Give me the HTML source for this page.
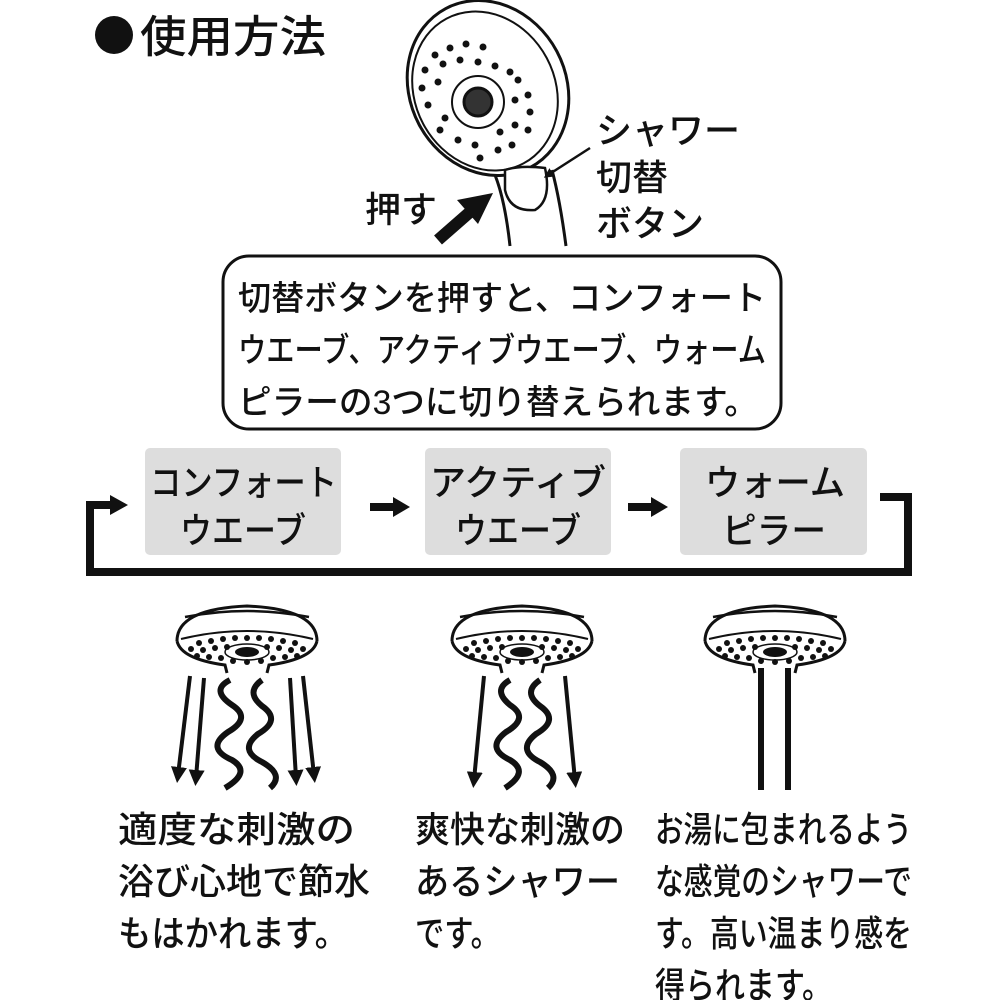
<!DOCTYPE html>
<html><head><meta charset="utf-8"><style>
html,body{margin:0;padding:0;background:#fff;}
svg{display:block;}
text{font-family:"Liberation Sans","Noto Sans CJK JP",sans-serif;fill:#111;font-weight:500;}
</style></head><body>
<svg width="1000" height="1000" viewBox="0 0 1000 1000" xmlns="http://www.w3.org/2000/svg">
<defs>
<marker id="ah" markerWidth="4" markerHeight="4" refX="2" refY="2" orient="auto" markerUnits="strokeWidth">
<path d="M0,0 L4,2 L0,4 Z" fill="#111"/></marker>
<g id="head">
<path d="M-70,38 Q-70,6 0,3 Q70,6 70,38" fill="#fff" stroke="#111" stroke-width="3"/>
<path d="M-62,14 Q0,2 62,14" fill="none" stroke="#111" stroke-width="2.5"/>
<path d="M-70,38 Q-66,56 -22,62 L-20,70 M70,38 Q66,56 22,62 L20,70" fill="none" stroke="#111" stroke-width="3"/>
<path d="M-66,36 Q0,20 66,36" fill="none" stroke="#111" stroke-width="2"/>
<g fill="#111">
<circle cx="-48" cy="40" r="3"/><circle cx="-36" cy="38" r="3"/><circle cx="-24" cy="36" r="3"/><circle cx="-12" cy="35" r="3"/><circle cx="0" cy="35" r="3"/><circle cx="12" cy="35" r="3"/><circle cx="24" cy="36" r="3"/><circle cx="36" cy="38" r="3"/><circle cx="48" cy="40" r="3"/>
<circle cx="-56" cy="46" r="3"/><circle cx="-44" cy="47" r="3"/><circle cx="-32" cy="45" r="3"/><circle cx="-20" cy="44" r="3"/><circle cx="20" cy="44" r="3"/><circle cx="32" cy="45" r="3"/><circle cx="44" cy="47" r="3"/><circle cx="56" cy="46" r="3"/>
<circle cx="-50" cy="53" r="3"/><circle cx="-38" cy="54" r="3"/><circle cx="-26" cy="55" r="3"/><circle cx="26" cy="55" r="3"/><circle cx="38" cy="54" r="3"/><circle cx="50" cy="53" r="3"/>
<circle cx="-14" cy="58" r="3"/><circle cx="0" cy="59" r="3"/><circle cx="14" cy="58" r="3"/>
<ellipse cx="0" cy="49" rx="12" ry="5"/>
</g>
<ellipse cx="0" cy="49" rx="22" ry="8" fill="none" stroke="#111" stroke-width="1.5"/>
</g>
</defs>

<!-- title -->
<circle cx="114" cy="35" r="19" fill="#111"/>
<text x="140" y="52" font-size="44" textLength="186" lengthAdjust="spacingAndGlyphs">使用方法</text>

<!-- top shower -->
<g stroke="#111" stroke-width="3" fill="#fff">
<path d="M510,246 Q505,200 495,175 M566,246 Q560,200 552,170"/>
<ellipse cx="488" cy="88" rx="78" ry="90" transform="rotate(-28 488 88)"/>
<ellipse cx="485" cy="91" rx="70" ry="82" transform="rotate(-28 485 91)" fill="none" stroke-width="2"/>
<path d="M505,170 Q520,165 545,168 Q552,200 535,210 Q510,212 505,190 Z" stroke-width="2.5"/>
<circle cx="478" cy="102" r="26" fill="none" stroke-width="2"/>
<circle cx="478" cy="102" r="14" fill="#333"/>
</g>
<g fill="#111">
<circle cx="435" cy="55" r="3.5"/><circle cx="450" cy="48" r="3.5"/><circle cx="466" cy="44" r="3.5"/><circle cx="483" cy="47" r="3.5"/>
<circle cx="425" cy="70" r="3.5"/><circle cx="443" cy="64" r="3.5"/><circle cx="460" cy="60" r="3.5"/><circle cx="478" cy="62" r="3.5"/><circle cx="495" cy="66" r="3.5"/><circle cx="510" cy="72" r="3.5"/>
<circle cx="422" cy="88" r="3.5"/><circle cx="438" cy="82" r="3.5"/><circle cx="518" cy="80" r="3.5"/><circle cx="528" cy="95" r="3.5"/>
<circle cx="428" cy="105" r="3.5"/><circle cx="445" cy="118" r="3.5"/><circle cx="515" cy="100" r="3.5"/><circle cx="530" cy="112" r="3.5"/>
<circle cx="440" cy="130" r="3.5"/><circle cx="458" cy="140" r="3.5"/><circle cx="475" cy="145" r="3.5"/><circle cx="500" cy="132" r="3.5"/><circle cx="515" cy="125" r="3.5"/><circle cx="528" cy="130" r="3.5"/>
<circle cx="480" cy="158" r="3.5"/><circle cx="498" cy="150" r="3.5"/><circle cx="512" cy="145" r="3.5"/>
</g>
<!-- arrows top -->
<path d="M438,240 L470,212" stroke="#111" stroke-width="12"/>
<path d="M493,193 L457,200 L478,224 Z" fill="#111"/>
<path d="M590,148 L548,175" stroke="#111" stroke-width="2.5" marker-end="url(#ah)"/>
<text x="365" y="222" font-size="36">押す</text>
<text x="596" y="143" font-size="36">シャワー</text>
<text x="596" y="190" font-size="36">切替</text>
<text x="596" y="236" font-size="36">ボタン</text>

<!-- callout -->
<rect x="223" y="256" width="558" height="173" rx="26" fill="#fff" stroke="#111" stroke-width="3"/>
<text x="238" y="310" font-size="34" textLength="528" lengthAdjust="spacingAndGlyphs">切替ボタンを押すと、コンフォート</text>
<text x="238" y="362" font-size="34" textLength="528" lengthAdjust="spacingAndGlyphs">ウエーブ、アクティブウエーブ、ウォーム</text>
<text x="238" y="414" font-size="34" textLength="520" lengthAdjust="spacingAndGlyphs">ピラーの3つに切り替えられます。</text>

<!-- mode boxes -->
<rect x="145" y="448" width="196" height="107" rx="5" fill="#ddd"/>
<rect x="425" y="448" width="186" height="107" rx="5" fill="#ddd"/>
<rect x="680" y="448" width="187" height="107" rx="5" fill="#ddd"/>
<g font-size="36">
<text x="150" y="495" textLength="187" lengthAdjust="spacingAndGlyphs">コンフォート</text>
<text x="180" y="543" textLength="126" lengthAdjust="spacingAndGlyphs">ウエーブ</text>
<text x="430" y="495" textLength="176" lengthAdjust="spacingAndGlyphs">アクティブ</text>
<text x="455" y="543" textLength="126" lengthAdjust="spacingAndGlyphs">ウエーブ</text>
<text x="705" y="495" textLength="140" lengthAdjust="spacingAndGlyphs">ウォーム</text>
<text x="722" y="543" textLength="104" lengthAdjust="spacingAndGlyphs">ピラー</text>
</g>
<!-- loop -->
<path d="M880,497 L908,497 L908,572 L90,572 L90,505 L112,505" fill="none" stroke="#111" stroke-width="8"/>
<path d="M110,495 L128,505 L110,515 Z" fill="#111"/>
<path d="M370,507 L395,507" stroke="#111" stroke-width="8"/><path d="M393,497 L410,507 L393,517 Z" fill="#111"/>
<path d="M628,507 L653,507" stroke="#111" stroke-width="8"/><path d="M651,497 L668,507 L651,517 Z" fill="#111"/>

<!-- bottom heads -->
<use href="#head" x="247" y="603"/>
<use href="#head" x="522" y="603"/>
<use href="#head" x="775" y="603"/>

<g stroke="#111" stroke-width="4" fill="none" marker-end="url(#ah)">
<path d="M190,676 L178,775"/><path d="M204,678 L196,778"/><path d="M290,678 L296,778"/><path d="M303,676 L314,775"/>
<path d="M484,676 L474,780"/><path d="M565,676 L575,780"/>
</g>
<g stroke="#111" stroke-width="6" fill="none">
<path d="M230,680 Q210,690 232,705 Q252,718 228,732 Q205,748 232,760 Q252,772 225,788"/>
<path d="M262,680 Q245,692 262,706 Q282,720 258,734 Q238,750 262,762 Q285,775 270,788"/>
<path d="M510,680 Q492,690 510,705 Q530,718 506,732 Q485,748 510,760 Q530,772 505,788"/>
<path d="M540,680 Q522,692 540,706 Q560,720 536,734 Q516,750 540,762 Q562,775 548,788"/>
<path d="M761,668 L761,790"/><path d="M788,668 L788,790"/>
</g>

<!-- bottom texts -->
<g font-size="36" lengthAdjust="spacingAndGlyphs">
<text x="118" y="842" textLength="237" lengthAdjust="spacingAndGlyphs">適度な刺激の</text>
<text x="118" y="894" textLength="252" lengthAdjust="spacingAndGlyphs">浴び心地で節水</text>
<text x="118" y="946" textLength="230" lengthAdjust="spacingAndGlyphs">もはかれます。</text>
<text x="415" y="842" textLength="210" lengthAdjust="spacingAndGlyphs">爽快な刺激の</text>
<text x="415" y="894" textLength="205" lengthAdjust="spacingAndGlyphs">あるシャワー</text>
<text x="415" y="946" textLength="85" lengthAdjust="spacingAndGlyphs">です。</text>
<text x="655" y="842" textLength="257" lengthAdjust="spacingAndGlyphs">お湯に包まれるよう</text>
<text x="655" y="894" textLength="257" lengthAdjust="spacingAndGlyphs">な感覚のシャワーで</text>
<text x="655" y="946" textLength="257" lengthAdjust="spacingAndGlyphs">す。高い温まり感を</text>
<text x="655" y="998" textLength="177" lengthAdjust="spacingAndGlyphs">得られます。</text>
</g>
</svg>
</body></html>
